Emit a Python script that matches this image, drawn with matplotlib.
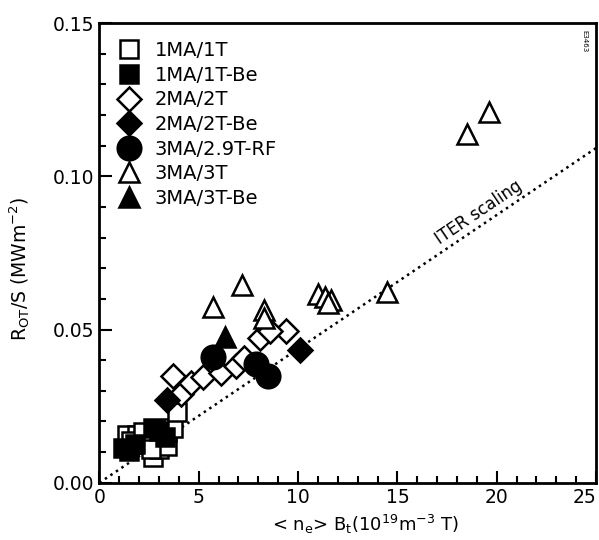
import matplotlib.pyplot as plt
import numpy as np

plt.rcParams['font.family'] = ['DejaVu Sans']
plt.rcParams['mathtext.fontset'] = 'dejavusans'

# data
sq_open_x = [1.4, 1.9, 2.3, 2.7, 3.0, 3.4, 3.4, 3.7, 3.9, 1.6, 2.2, 2.6]
sq_open_y = [0.0157, 0.0157, 0.0125, 0.0085, 0.011, 0.012, 0.0166, 0.018, 0.023, 0.0135, 0.0165, 0.011]
sq_fill_x = [1.2, 1.5, 1.8, 2.7, 3.0, 3.3]
sq_fill_y = [0.0114, 0.0105, 0.0125, 0.018, 0.017, 0.015]
dia_open_x = [3.7, 4.1, 4.6, 5.2, 6.1, 6.9, 7.3, 8.1, 9.4, 8.6]
dia_open_y = [0.0349, 0.029, 0.0326, 0.0346, 0.0359, 0.0382, 0.0408, 0.0473, 0.0496, 0.0495]
dia_fill_x = [3.4, 10.1]
dia_fill_y = [0.027, 0.0434]
circ_x = [5.7, 7.9, 8.5]
circ_y = [0.0411, 0.0388, 0.0349]
tri_open_x = [18.5, 19.6, 14.5, 7.2, 5.7, 8.3, 8.3, 11.0, 11.35, 11.65, 11.5]
tri_open_y = [0.114, 0.121, 0.0623, 0.0646, 0.0574, 0.0564, 0.0538, 0.0616, 0.0607, 0.0597, 0.0587]
tri_fill_x = [6.3]
tri_fill_y = [0.0476]
iter_slope = 0.00437

fig = plt.figure(figsize=(5.99, 5.4), dpi=100)
ax = fig.add_axes([0.166, 0.106, 0.829, 0.851])

mew = 1.8
ax.plot(sq_open_x, sq_open_y, 's', ms=13, mfc='white', mec='black', mew=mew, label='1MA/1T')
ax.plot(sq_fill_x, sq_fill_y, 's', ms=13, mfc='black', mec='black', mew=mew, label='1MA/1T-Be')
ax.plot(dia_open_x, dia_open_y, 'D', ms=12, mfc='white', mec='black', mew=mew, label='2MA/2T')
ax.plot(dia_fill_x, dia_fill_y, 'D', ms=12, mfc='black', mec='black', mew=mew, label='2MA/2T-Be')
ax.plot(circ_x, circ_y, 'o', ms=17, mfc='black', mec='black', mew=mew, label='3MA/2.9T-RF')
ax.plot(tri_open_x, tri_open_y, '^', ms=15, mfc='white', mec='black', mew=mew, label='3MA/3T')
ax.plot(tri_fill_x, tri_fill_y, '^', ms=15, mfc='black', mec='black', mew=mew, label='3MA/3T-Be')

xl = np.array([0, 25])
ax.plot(xl, iter_slope * xl, ':', color='black', lw=1.8, zorder=1)
ax.text(19.1, 0.0884, 'ITER scaling', fontsize=12, rotation=np.degrees(np.arctan(iter_slope)),
        ha='center', va='center', transform_rotates_text=True, rotation_mode='anchor')

ax.set_xlim(0, 25)
ax.set_ylim(0, 0.15)
ax.set_xticks([0, 5, 10, 15, 20, 25])
ax.set_xticks(np.arange(0, 26, 1), minor=True)
ax.set_yticks([0.0, 0.05, 0.10, 0.15])
ax.set_yticklabels(['0.00', '0.05', '0.10', '0.15'])
ax.set_yticks(np.arange(0, 0.151, 0.01), minor=True)
ax.tick_params(which='both', direction='in', top=False, right=False, width=1.5, labelsize=13.5)
ax.tick_params(which='major', length=9)
ax.tick_params(which='minor', length=5)
ax.get_xticklabels()[-1].set_ha('right')
for s in ax.spines.values():
    s.set_linewidth(2)

ax.set_xlabel(r'< n$_{\rm e}$> B$_{\rm t}$(10$^{19}$m$^{-3}$ T)', fontsize=13)
ax.set_ylabel(r'R$_{\rm OT}$/S (MWm$^{-2}$)', fontsize=13.5)
ax.xaxis.set_label_coords(0.535, -0.065)
ax.yaxis.set_label_coords(-0.135, 0.465)

ax.legend(loc='upper left', frameon=False, fontsize=14, handletextpad=0.75,
          labelspacing=0.29, borderaxespad=0.0, handlelength=1.15,
          bbox_to_anchor=(0.021, 0.978))

fig.text(0.975, 0.945, 'E3463', fontsize=5, rotation=-90, ha='center', va='top')

fig.savefig('out.png', dpi=100)
